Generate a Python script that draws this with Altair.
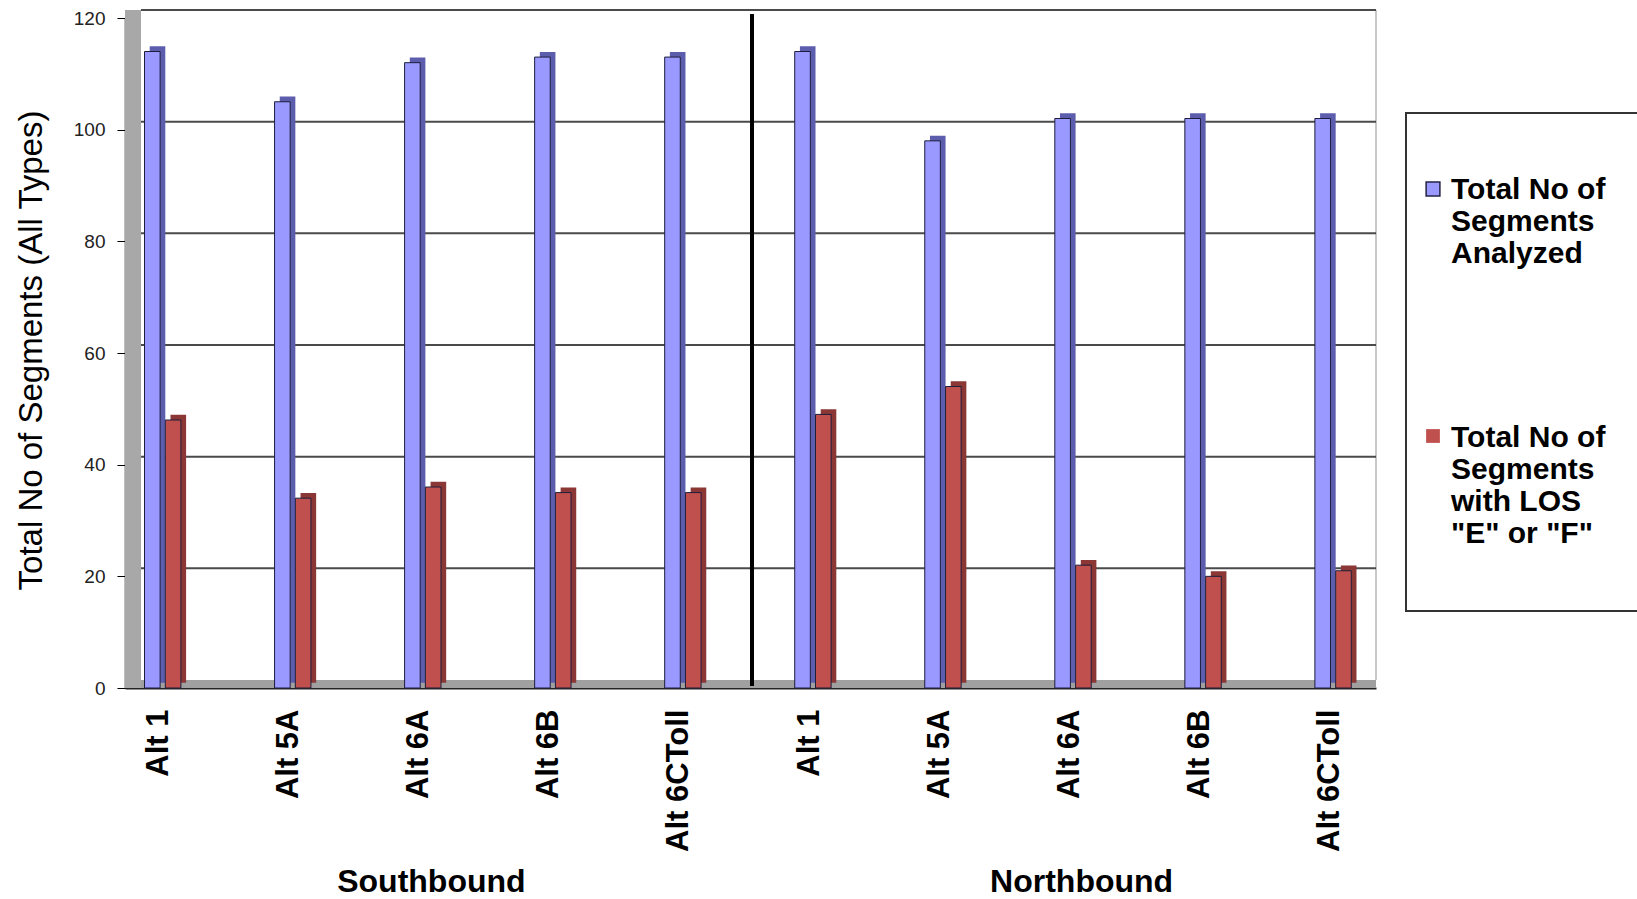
import altair as alt
import pandas as pd

# ---- data ----
groups = ["Southbound", "Northbound"]
alternatives = ["Alt 1", "Alt 5A", "Alt 6A", "Alt 6B", "Alt 6CToll"]
series = ["Total No of Segments Analyzed", "Total No of Segments with LOS \"E\" or \"F\""]
analyzed_south = [114, 105, 112, 113, 113]
analyzed_north = [114, 98, 102, 102, 102]
los_south = [48, 34, 36, 35, 35]
los_north = [49, 54, 22, 20, 21]
y_ticks = [0, 20, 40, 60, 80, 100, 120]
legend_labels = ["Total No of\nSegments\nAnalyzed", "Total No of\nSegments\nwith LOS\n\"E\" or \"F\""]

FONT = "Liberation Sans"
FRONT = ["#9999FF", "#C0504D"]
SIDE = ["#5D5DAE", "#8A3735"]

rows = []
keys = []
for g, an, lo in [(groups[0], analyzed_south, los_south), (groups[1], analyzed_north, los_north)]:
    for i, a in enumerate(alternatives):
        k = f"{g}|{a}"
        keys.append(k)
        rows.append({"key": k, "series": series[0], "value": an[i]})
        rows.append({"key": k, "series": series[1], "value": lo[i]})
df = pd.DataFrame(rows)

one = pd.DataFrame({"k": [0]})
grid_df = pd.DataFrame({"v": y_ticks[1:]})
group_df = pd.DataFrame({"key": [f"{groups[0]}|{alternatives[2]}", f"{groups[1]}|{alternatives[2]}"],
                         "name": groups})

x_scale = alt.Scale(domain=keys, paddingInner=0.68, paddingOuter=0.15)
y_scale = alt.Scale(domain=[0, 120], nice=False)
color_scale = alt.Scale(domain=series, range=FRONT)
side_scale = alt.Scale(domain=series, range=SIDE)

x_axis = alt.Axis(title=None, ticks=False, domainColor="#222222", domainWidth=2,
                  labelAngle=270, labelFont=FONT, labelFontSize=31, labelFontWeight="bold",
                  labelColor="black", labelPadding=21, labelOffset=-6,
                  labelExpr="split(datum.label, '|')[1]")
y_axis = alt.Axis(title="Total No of Segments (All Types)", values=y_ticks, grid=False,
                  domainColor="black", domainWidth=1.5, tickColor="black", tickSize=8,
                  labelFont=FONT, labelFontSize=19, labelColor="#222222", labelPadding=12,
                  titleFont=FONT, titleFontSize=33, titleFontWeight="normal", titleColor="black",
                  titleAngle=270, titleAlign="center", titleBaseline="middle",
                  titleX=-94, titleY=332)

# 3D-ish walls
floor = alt.Chart(one).mark_rect(color="#A0A0A0").encode(
    x=alt.value(0), x2=alt.value(1251), y=alt.value(662), y2=alt.value(670))
wall = alt.Chart(one).mark_rect(color="#A8A8A8").encode(
    x=alt.value(0), x2=alt.value(16), y=alt.value(-8), y2=alt.value(670))
right_border = alt.Chart(one).mark_rule(color="#C8C8C8", strokeWidth=2).encode(
    x=alt.value(1251), y=alt.value(-8), y2=alt.value(662))

grid = alt.Chart(grid_df).mark_rule(color="#4A4A4A", strokeWidth=2, yOffset=-8).encode(
    x=alt.value(16), x2=alt.value(1251),
    y=alt.Y("v:Q", scale=y_scale, axis=y_axis))

separator = alt.Chart(one).mark_rule(color="black", strokeWidth=4).encode(
    x=alt.value(627), y=alt.value(-4), y2=alt.value(668))

side = alt.Chart(df).mark_bar(width=15.6, yOffset=-5.2).encode(
    x=alt.X("key:N", scale=x_scale, axis=x_axis, sort=keys),
    xOffset=alt.XOffset("series:N", sort=series,
                        scale=alt.Scale(range=[2.6, 44.2], paddingInner=0, paddingOuter=0)),
    y=alt.Y("value:Q", scale=y_scale),
    color=alt.Color("series:N", scale=side_scale, legend=None),
)
front = alt.Chart(df).mark_bar(width=15.6, stroke="#1E1E3C", strokeWidth=1).encode(
    x=alt.X("key:N", scale=x_scale, sort=keys),
    xOffset=alt.XOffset("series:N", sort=series,
                        scale=alt.Scale(range=[-2.6, 39.0], paddingInner=0, paddingOuter=0)),
    y=alt.Y("value:Q", scale=y_scale),
    fill=alt.Fill("series:N", scale=color_scale, legend=None),
)

group_text = alt.Chart(group_df).mark_text(font=FONT, fontSize=32, fontWeight="bold",
                                           baseline="middle", align="center", dx=6,
                                           color="black").encode(
    x=alt.X("key:N", scale=x_scale, sort=keys),
    y=alt.value(864),
    text="name:N",
)

# legend
leg_box = alt.Chart(one).mark_rect(fill="white", stroke="#333333", strokeWidth=2).encode(
    x=alt.value(1281), x2=alt.value(1540), y=alt.value(95), y2=alt.value(593))
leg_sym1 = alt.Chart(one).mark_square(size=190, color=FRONT[0], stroke="#222244",
                                      strokeWidth=1.5, opacity=1).encode(
    x=alt.value(1308), y=alt.value(171))
leg_sym2 = alt.Chart(one).mark_square(size=190, color=FRONT[1], opacity=1).encode(
    x=alt.value(1308), y=alt.value(418))
leg_txt1 = alt.Chart(one).mark_text(font=FONT, fontSize=30, fontWeight="bold", align="left",
                                    baseline="alphabetic", lineBreak="\n", lineHeight=32,
                                    color="black").encode(
    x=alt.value(1326), y=alt.value(181), text=alt.value(legend_labels[0]))
leg_txt2 = alt.Chart(one).mark_text(font=FONT, fontSize=30, fontWeight="bold", align="left",
                                    baseline="alphabetic", lineBreak="\n", lineHeight=32,
                                    color="black").encode(
    x=alt.value(1326), y=alt.value(429), text=alt.value(legend_labels[1]))

chart = alt.layer(
    floor, wall, right_border, grid, separator, side, front, group_text,
    leg_box, leg_sym1, leg_sym2, leg_txt1, leg_txt2,
).resolve_scale(color="independent", xOffset="independent").properties(
    width=1251, height=670,
    padding={"left": 125, "top": 18, "right": 261, "bottom": 211},
    autosize=alt.AutoSizeParams(type="none"),
    background="white",
).configure_view(stroke=None)

chart.save("out.html", embed_options={"renderer": "svg", "actions": False})
